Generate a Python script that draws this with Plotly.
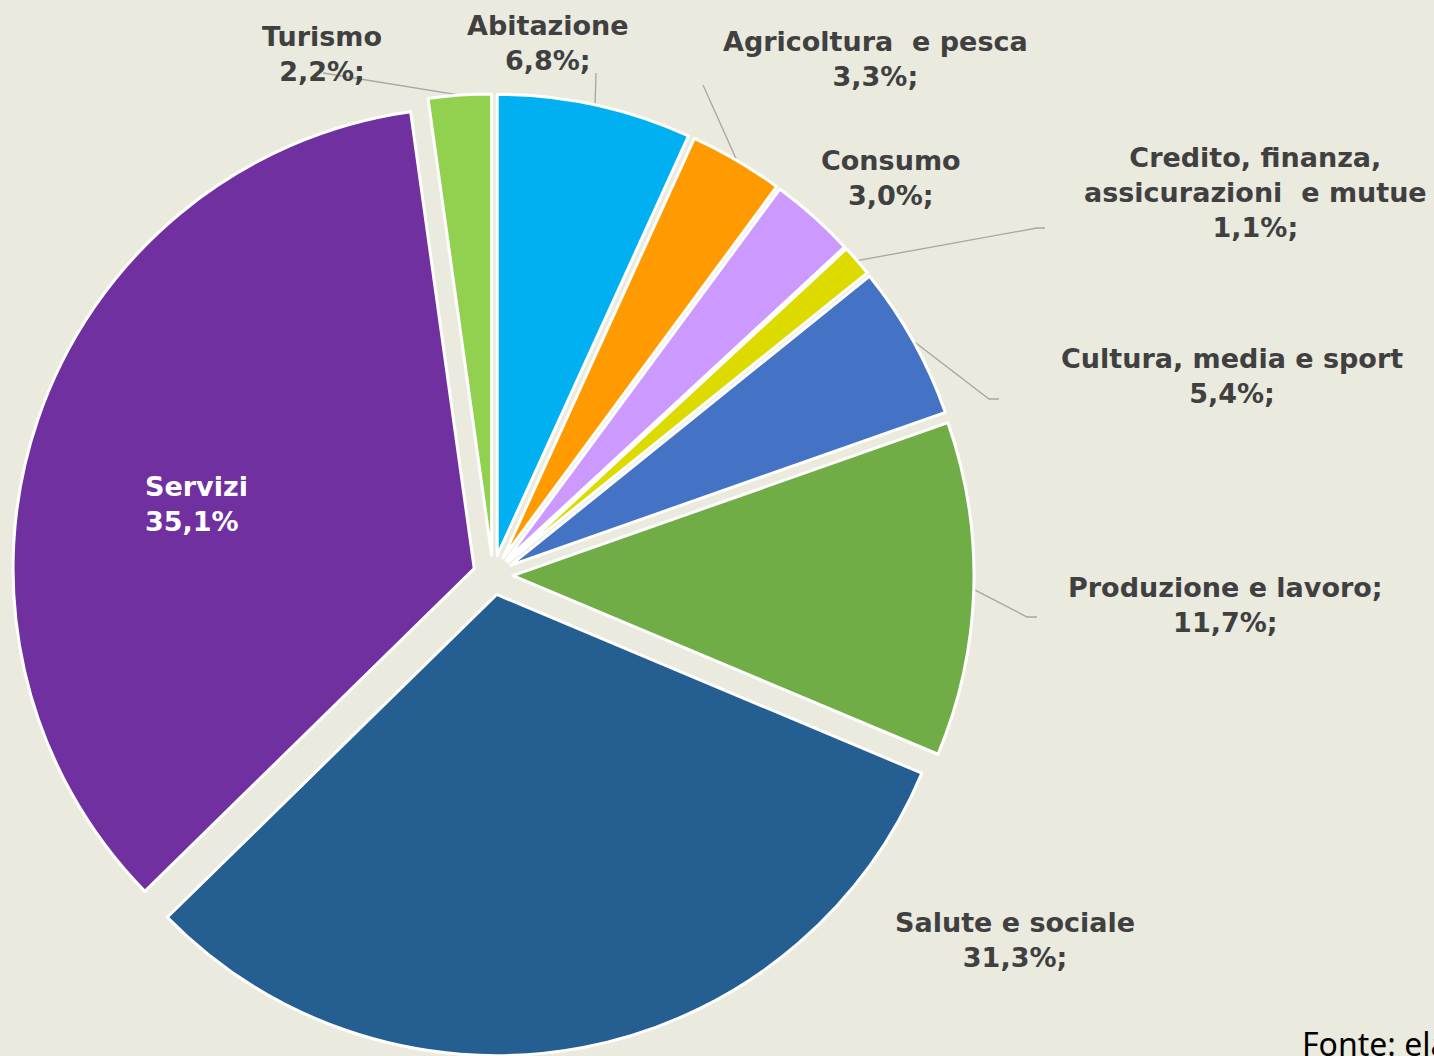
import math
import plotly.graph_objects as go

# ---- data ----
categories = ["Abitazione", "Agricoltura  e pesca", "Consumo",
              "Credito, finanza, assicurazioni  e mutue", "Cultura, media e sport",
              "Produzione e lavoro", "Salute e sociale", "Servizi", "Turismo"]
values = [6.8, 3.3, 3.0, 1.1, 5.4, 11.7, 31.3, 35.1, 2.2]
label_names = ["Abitazione", "Agricoltura  e pesca", "Consumo",
               "Credito, finanza,<br>assicurazioni  e mutue", "Cultura, media e sport",
               "Produzione e lavoro;", "Salute e sociale", "Servizi", "Turismo"]
value_suffix = ["%;", "%;", "%;", "%;", "%;", "%;", "%;", "%", "%;"]
colors = ["#00B0F0", "#FF9B00", "#CC99FF", "#DDDA00", "#4472C4",
          "#70AD47", "#255E91", "#7030A0", "#92D050"]

W, H = 1434, 1056
BG = "#EAEADF"
PULL = 0.043

# pie domain in pixels
cx, cy, R_out = 493, 575, 481
dom_x = [(cx - R_out) / W, (cx + R_out) / W]
dom_y = [1 - (cy + R_out) / H, 1 - (cy - R_out) / H]

fig = go.Figure(go.Pie(
    labels=categories, values=values, sort=False, direction="clockwise",
    rotation=0, pull=[PULL] * len(values),
    marker=dict(colors=colors, line=dict(color="white", width=3)),
    textinfo="none", hoverinfo="label+percent", showlegend=False,
    domain=dict(x=dom_x, y=dom_y),
))

def px(x):
    return x / W

def py(y):
    return 1 - y / H

def fmt(v):
    return f"{v:.1f}".replace(".", ",")

# edge points of slices (from data)
total = sum(values)
r = R_out / (1 + PULL)
edge = []
cum = 0
for v in values:
    mid = (cum + v / 2) / total * 2 * math.pi
    cum += v
    ox = cx + PULL * r * math.sin(mid)
    oy = cy - PULL * r * math.cos(mid)
    edge.append((ox + r * math.sin(mid), oy - r * math.cos(mid)))

# label placement (pixels): center x, center y
label_pos = [(548, 43), (875, 59), (891, 178), (1255, 192), (1232, 376),
             (1225, 605), (1015, 940), (196, 504), (322, 54)]
# leader line start points (pixels), None if no line
leader_start = [[(596, 73)], [(703, 85)], None, [(1045, 228), (1037, 228)],
                [(999, 399), (989, 399)], [(1037, 617), (1027, 617)], None, None,
                [(323, 73)]]

shapes = []
for i, pts in enumerate(leader_start):
    if pts is None:
        continue
    path_pts = pts + [edge[i]]
    d = "M " + " L ".join(f"{px(x)},{py(y)}" for x, y in path_pts)
    shapes.append(dict(type="path", xref="paper", yref="paper", path=d,
                       line=dict(color="#A6A6A6", width=1.3), layer="below"))

annotations = []
for i, (lx, ly) in enumerate(label_pos):
    inside = categories[i] == "Servizi"
    annotations.append(dict(
        x=px(lx), y=py(ly), xref="paper", yref="paper",
        text=f"{label_names[i]}<br>{fmt(values[i])}{value_suffix[i]}",
        showarrow=False, xanchor="center", yanchor="middle",
        align="left" if inside else "center",
        font=dict(family="DejaVu Sans", size=27,
                  color="white" if inside else "#404040", weight="bold"),
    ))

annotations.append(dict(
    x=px(1300), y=py(1020), xref="paper", yref="paper",
    text="Fonte: elaborazione", showarrow=False, xanchor="left", yanchor="top",
    font=dict(family="Noto Sans", size=32, color="#000000"),
))

fig.update_layout(
    width=W, height=H, margin=dict(l=0, r=0, t=0, b=0),
    paper_bgcolor=BG, plot_bgcolor=BG,
    shapes=shapes, annotations=annotations,
)

fig.write_html(
    "out.html",
    config={"displayModeBar": False},
    post_script="document.body.style.margin='0';document.body.style.background='" + BG + "';"
                "document.body.style.overflow='hidden';",
)
